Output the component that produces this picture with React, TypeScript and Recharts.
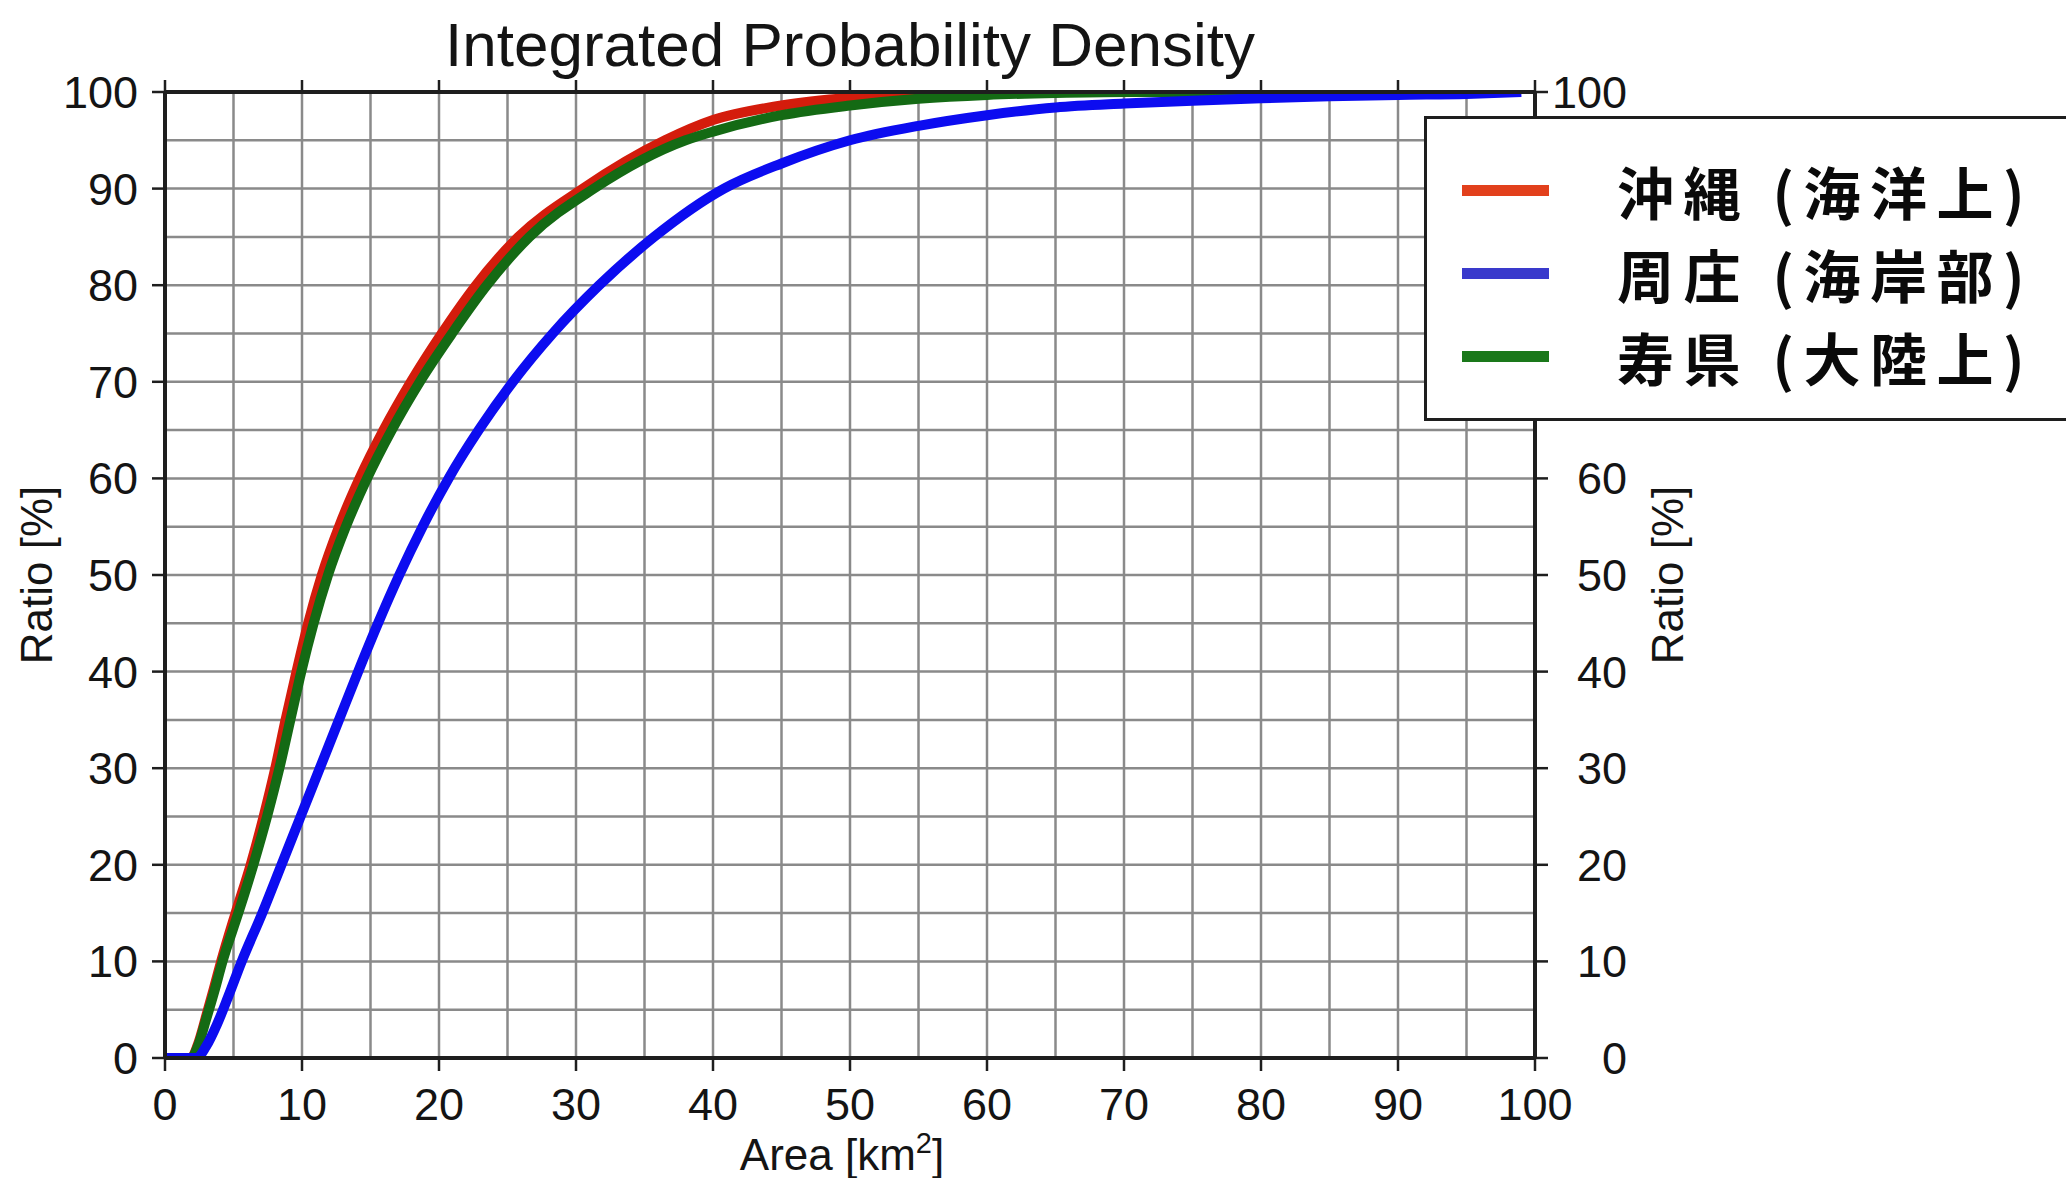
import React from 'react';
import { LineChart, Line, XAxis, YAxis, CartesianGrid, Label } from 'recharts';

// [area km2, cumulative ratio %]
const okinawa: [number, number][] = [
  [0, 0], [1.9, 0], [2.4, 1.4], [3.0, 4.3], [3.55, 7.1], [4.1, 10], [5.15, 15], [6.25, 20], [7.2, 25],
  [8.05, 30], [8.8, 35], [9.6, 40], [10.45, 45], [11.45, 50], [12.7, 55], [14.2, 60], [15.95, 65],
  [17.95, 70], [20.2, 75], [22.7, 80], [25.8, 85], [30.5, 90], [36.5, 95], [40, 97.1], [45, 98.6],
  [50, 99.4], [55, 99.8], [60, 99.95], [65, 100], [97, 100],
];

const shuzhuang: [number, number][] = [
  [0, 0], [2.3, 0], [3, 1.2], [3.8, 3.5], [4.6, 6.3], [5.6, 10], [7.1, 15], [8.5, 20], [9.9, 25],
  [11.3, 30], [12.7, 35], [14.1, 40], [15.55, 45], [17.1, 50], [18.8, 55], [20.7, 60], [22.9, 65],
  [25.4, 70], [28.3, 75], [31.7, 80], [35.7, 85], [40.8, 90], [45, 92.6], [50, 95], [55, 96.5],
  [60, 97.6], [65, 98.4], [70, 98.8], [75, 99.1], [80, 99.35], [85, 99.55], [90, 99.7], [95, 99.8],
  [99, 100],
];

const shouxian: [number, number][] = [
  [0, 0], [1.9, 0], [2.4, 1.2], [3.0, 4.0], [3.6, 6.9], [4.2, 10], [5.35, 15], [6.45, 20], [7.45, 25],
  [8.35, 30], [9.15, 35], [9.95, 40], [10.85, 45], [11.9, 50], [13.2, 55], [14.75, 60], [16.55, 65],
  [18.6, 70], [20.95, 75], [23.5, 80], [26.6, 85], [31.3, 90], [38, 95], [40, 95.9], [45, 97.6],
  [50, 98.6], [55, 99.3], [60, 99.7], [65, 99.9], [70, 100], [88, 100],
];

const gridTicks = [0, 5, 10, 15, 20, 25, 30, 35, 40, 45, 50, 55, 60, 65, 70, 75, 80, 85, 90, 95, 100];
// right-hand labels hidden behind the legend box
const coveredRightTicks = [70, 80, 90];

const seriesNames = ['沖縄 (海洋上)', '周庄 (海岸部)', '寿県 (大陸上)'];
const lineColors = ['#d41c0c', '#0c0cf0', '#146a14'];
const legendColors = ['#e2401c', '#3a3acc', '#1a781a'];

const toRows = (pts: [number, number][]) => pts.map(([x, y]) => ({ x, y }));

const FONT = '"Liberation Sans", Arial, Helvetica, sans-serif';
const TXT = '#141414';
const AXIS = '#1e1e1e';
const TICK_FS = 45;
const ROW_H = 83;

const BottomTick = (props: any) => {
  const { x, y, payload } = props;
  if (payload.value % 10 !== 0) return <g />;
  return (
    <g>
      <line x1={x} x2={x} y1={y} y2={y + 13} stroke={AXIS} strokeWidth={2.5} />
      <text x={x} y={y + 62} textAnchor="middle" fontSize={TICK_FS} fontFamily={FONT} fill={TXT}>
        {payload.value}
      </text>
    </g>
  );
};

const TopTick = (props: any) => {
  const { x, y, payload } = props;
  if (payload.value % 10 !== 0) return <g />;
  return <line x1={x} x2={x} y1={y} y2={y - 12} stroke={AXIS} strokeWidth={2.5} />;
};

const LeftTick = (props: any) => {
  const { x, y, payload } = props;
  if (payload.value % 10 !== 0) return <g />;
  return (
    <g>
      <line x1={x} x2={x - 13} y1={y} y2={y} stroke={AXIS} strokeWidth={2.5} />
      <text x={x - 27} y={y + 16} textAnchor="end" fontSize={TICK_FS} fontFamily={FONT} fill={TXT}>
        {payload.value}
      </text>
    </g>
  );
};

const RightTick = (props: any) => {
  const { x, y, payload } = props;
  if (payload.value % 10 !== 0) return <g />;
  return (
    <g>
      <line x1={x} x2={x + 13} y1={y} y2={y} stroke={AXIS} strokeWidth={2.5} />
      {!coveredRightTicks.includes(payload.value) && (
        <text x={x + 92} y={y + 16} textAnchor="end" fontSize={TICK_FS} fontFamily={FONT} fill={TXT}>
          {payload.value}
        </text>
      )}
    </g>
  );
};

const AreaLabel = (props: any) => {
  const { x, y, width } = props.viewBox;
  return (
    <text x={x + width / 2 - 8} y={y + 112} textAnchor="middle" fontSize={44} fontFamily={FONT} fill={TXT}>
      Area [km
      <tspan dy={-17} fontSize={29}>2</tspan>
      <tspan dy={17}>]</tspan>
    </text>
  );
};

const RatioLabel = (cx: number) => (props: any) => {
  const { y, height } = props.viewBox;
  const cy = y + height / 2;
  return (
    <text
      transform={`translate(${cx},${cy}) rotate(-90)`}
      textAnchor="middle"
      fontSize={44}
      fontFamily={FONT}
      fill={TXT}
    >
      Ratio [%]
    </text>
  );
};

export default function App() {
  return (
    <div style={{ position: 'absolute', left: 0, top: 0, width: 2066, height: 1178, background: '#fff', overflow: 'hidden' }}>
      <LineChart width={2066} height={1178} margin={{ top: 72, right: 331, bottom: 0, left: 0 }}>
        <CartesianGrid stroke="#8a8a8a" strokeWidth={2.5} />
        <XAxis
          dataKey="x"
          type="number"
          domain={[0, 100]}
          ticks={gridTicks}
          interval={0}
          height={120}
          tickSize={0}
          tickMargin={0}
          tickLine={false}
          tick={<BottomTick />}
          axisLine={{ stroke: AXIS, strokeWidth: 4 }}
          allowDataOverflow
        >
          <Label content={<AreaLabel />} />
        </XAxis>
        <XAxis
          xAxisId="top"
          orientation="top"
          dataKey="x"
          type="number"
          domain={[0, 100]}
          ticks={gridTicks}
          interval={0}
          height={20}
          tickSize={0}
          tickMargin={0}
          tickLine={false}
          tick={<TopTick />}
          axisLine={{ stroke: AXIS, strokeWidth: 4 }}
          allowDataOverflow
        />
        <YAxis
          type="number"
          domain={[0, 100]}
          ticks={gridTicks}
          interval={0}
          width={165}
          tickSize={0}
          tickMargin={0}
          tickLine={false}
          tick={<LeftTick />}
          axisLine={{ stroke: AXIS, strokeWidth: 4 }}
          allowDataOverflow
        >
          <Label content={RatioLabel(52)} />
        </YAxis>
        <YAxis
          yAxisId="right"
          orientation="right"
          type="number"
          domain={[0, 100]}
          ticks={gridTicks}
          interval={0}
          width={200}
          tickSize={0}
          tickMargin={0}
          tickLine={false}
          tick={<RightTick />}
          axisLine={{ stroke: AXIS, strokeWidth: 4 }}
          allowDataOverflow
        >
          <Label content={RatioLabel(1683)} />
        </YAxis>
        <Line data={toRows(okinawa)} dataKey="y" type="monotone" stroke={lineColors[0]} strokeWidth={10} dot={false} isAnimationActive={false} />
        <Line data={toRows(shouxian)} dataKey="y" type="monotone" stroke={lineColors[2]} strokeWidth={10} dot={false} isAnimationActive={false} />
        <Line data={toRows(shuzhuang)} dataKey="y" type="monotone" stroke={lineColors[1]} strokeWidth={10} dot={false} isAnimationActive={false} />
      </LineChart>

      <div
        style={{
          position: 'absolute',
          left: 0,
          top: 12,
          width: 1700,
          textAlign: 'center',
          fontFamily: FONT,
          fontSize: 62,
          lineHeight: '66px',
          color: TXT,
        }}
      >
        Integrated Probability Density
      </div>

      <div
        style={{
          position: 'absolute',
          left: 1424,
          top: 116,
          width: 700,
          height: 305,
          border: '3px solid #1e1e1e',
          background: '#fff',
          boxSizing: 'border-box',
        }}
      >
        {legendColors.map((c, i) => (
          <div
            key={c}
            style={{
              position: 'absolute',
              left: 35,
              top: 30 + i * ROW_H + ROW_H / 2 - 5.5,
              width: 87,
              height: 11,
              background: c,
            }}
          />
        ))}
        <div
          style={{
            position: 'absolute',
            left: 190,
            top: 30,
            fontFamily: '"Noto Sans CJK JP", sans-serif',
            fontWeight: 700,
            fontSize: 57,
            letterSpacing: '9.5px',
            lineHeight: `${ROW_H}px`,
            color: '#0a0a0a',
            whiteSpace: 'nowrap',
          }}
        >
          {seriesNames.map((name, i) => (
            <React.Fragment key={name}>
              {name}
              {i < seriesNames.length - 1 && <br />}
            </React.Fragment>
          ))}
        </div>
      </div>
    </div>
  );
}
